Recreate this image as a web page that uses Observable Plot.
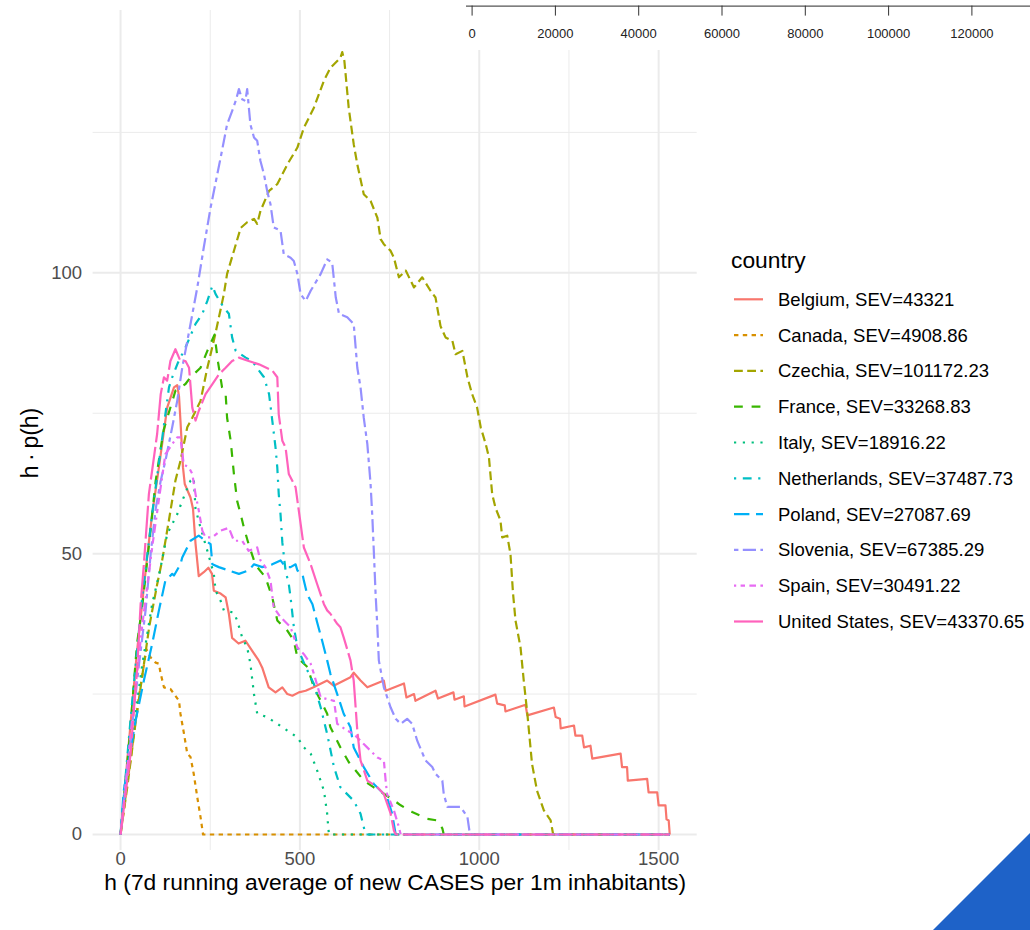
<!DOCTYPE html>
<html>
<head>
<meta charset="utf-8">
<script src="https://cdn.jsdelivr.net/npm/d3@7"></script>
<script src="https://cdn.jsdelivr.net/npm/@observablehq/plot@0.6"></script>
<style>
  body { margin: 0; background: #fff; font-family: "Liberation Sans", Arial, Helvetica, sans-serif; }
  #wrap { position: relative; width: 1030px; height: 930px; overflow: hidden; background: #fff; }
  #wrap > * { position: absolute; }
  .ytitle { left: 30px; top: 443px; transform: translate(-50%, -50%) rotate(-90deg); font-size: 23px; color: #000; white-space: nowrap; }
  .corner { right: 0; bottom: 0; width: 97px; height: 97px; background: #1e62c8; clip-path: polygon(100% 0, 100% 100%, 0 100%); }
</style>
</head>
<body>
<div id="wrap"></div>
<script>
// h = 7-day running average of new cases per 1M inhabitants, v = h·p(h)
const countries = ["Belgium", "Canada", "Czechia", "France", "Italy", "Netherlands", "Poland", "Slovenia", "Spain", "United States"];
const sev = ["43321", "4908.86", "101172.23", "33268.83", "18916.22", "37487.73", "27087.69", "67385.29", "30491.22", "43370.65"];
const colors = ["#F8766D", "#D89000", "#A3A500", "#39B600", "#00BF7D", "#00BFC4", "#00B0F6", "#9590FF", "#E76BF3", "#FF62BC"];
// ggplot linetypes: solid, 22, 42, 44, 13, 1343, 73, 2262, 12223242, F282
const dashes = ["none", "4.4,4.4", "8.8,4.4", "8.8,8.8", "2.2,6.6", "2.2,6.6,8.8,6.6", "15.4,6.6", "4.4,4.4,13.2,4.4", "2.2,4.4,4.4,4.4,6.6,4.4,8.8,4.4", "33,4.4,17.6,4.4"];

const xTicks = [0, 500, 1000, 1500];
const xMinor = [250, 750, 1250];
const yTicks = [0, 50, 100];
const yMinor = [25, 75, 125];
const topTicks = [0, 20000, 40000, 60000, 80000, 100000, 120000];

const belgium = [[0,0],[20,14],[45,32],[74,49.3],[88,57],[107,65.4],[130,76],[149,79.6],[158,80],[163,78],[167,73.7],[174,65.4],[179,62.4],[195,60],[202,58],[209,51.8],[218,46],[232,46.7],[245,47.5],[255,46.4],[260,43.4],[279,42.9],[293,42.2],[302,39.3],[311,35],[329,34],[348,34.5],[367,32.7],[385,31],[395,29.7],[413,26.2],[432,25.3],[451,26.2],[465,25],[479,24.7],[497,25.3],[516,25.6],[538,26.2],[576,27.4],[594,26.5],[641,28],[650,28.8],[669,27.4],[688,26.2],[734,27.4],[739,25.6],[790,26.9],[797,24.4],[818,25],[822,23.8],[878,25.6],[885,24.2],[928,25.3],[931,24],[957,24.6],[959,22.8],[1045,24.9],[1050,23.3],[1071,23],[1073,21.9],[1129,23.1],[1134,21.2],[1208,22.6],[1213,20.9],[1225,20.6],[1227,18.9],[1264,19.4],[1268,17.6],[1287,17.6],[1292,15.5],[1310,15.8],[1315,13.5],[1394,14.4],[1398,12],[1412,12],[1414,9.6],[1468,9.9],[1472,7.5],[1496,7.5],[1500,5.2],[1519,5.2],[1522,2.7],[1528,2.5],[1531,0]];
const canada = [[0,0],[25,12],[50,24],[72,33],[84,31.5],[98,30.6],[107,30.4],[111,28.9],[121,26.2],[139,25.9],[153,24.7],[163,23.8],[167,21.5],[177,17.9],[186,14.4],[195,13.8],[204,10.8],[214,6.6],[223,3.1],[230,0],[1531,0]];
const czechia = [[0,0],[20,9],[40,19],[60,28],[80,37],[102,44.5],[116,48.8],[135,56],[153,63],[167,66.5],[186,72.5],[200,74.2],[223,77.2],[242,83.1],[260,87.9],[274,92],[288,96.2],[297,99.8],[335,108],[353,109],[372,109.6],[381,108.7],[390,111],[414,114.6],[437,115.8],[465,119.3],[493,122.3],[511,125.8],[539,129.4],[567,134.2],[585,136.5],[613,138.3],[618,139.3],[624,137.7],[636,129.4],[650,122.9],[660,119.3],[678,114],[697,112.8],[716,109.8],[725,106],[734,105.1],[753,103.9],[762,102.7],[776,99.2],[795,100.4],[818,97.4],[841,99.2],[864,96.8],[878,95.6],[892,90.5],[906,88.5],[925,87.9],[934,85.5],[953,86.1],[967,81.4],[980,78.4],[994,76],[1004,72.5],[1018,69.5],[1027,67.1],[1036,60.6],[1045,58.2],[1059,55.9],[1064,52.9],[1078,53.2],[1087,49.9],[1094,43],[1101,38.1],[1115,33.3],[1124,27.4],[1134,21.5],[1147,12.6],[1161,7.8],[1180,4.3],[1199,2.5],[1206,0],[1531,0]];
const france = [[0,0],[25,17],[46,34],[60,40.4],[80,52],[98,63],[120,72],[153,79],[181,80.2],[195,81.4],[223,83.1],[242,86.1],[262,89],[272,84],[283,79.6],[293,78.4],[297,74.2],[307,70.1],[316,64.2],[325,59.4],[335,57],[344,54.6],[357,51.7],[372,48.8],[381,47.6],[404,45.8],[423,42.2],[437,38.1],[465,36.3],[483,34.5],[493,31.5],[521,29.8],[539,26.2],[558,23.8],[576,21.5],[585,19.1],[613,15.5],[636,12.9],[678,9.6],[706,8.4],[757,6.3],[781,5.2],[813,4],[855,2.8],[883,2.5],[897,1.1],[901,0],[1531,0]];
const italy = [[0,0],[30,16],[60,30],[88,41],[110,47],[130,53.5],[158,57],[172,59.4],[195,63],[204,63.5],[209,58],[223,54.6],[242,50.5],[260,46.4],[265,43.4],[279,41.6],[288,39.9],[316,39.5],[325,38.1],[339,35.1],[353,33.3],[362,30.4],[372,25],[381,21.5],[409,20.9],[437,19.7],[465,18.5],[493,17.3],[511,15.5],[530,14.4],[548,11.4],[567,7.8],[576,3.7],[579,1.3],[581,0],[1531,0]];
const netherlands = [[0,0],[30,22],[60,42],[90,58],[115,70],[135,79.6],[144,81.4],[160,84],[181,86.7],[209,90.9],[228,92.7],[242,95],[256,97.7],[265,96.2],[279,94.7],[288,93.8],[302,92.7],[311,88.5],[321,86.1],[349,84.9],[367,84.3],[386,82.6],[400,81.4],[414,78.4],[423,73.7],[432,68.9],[437,65.3],[441,60.6],[446,57],[451,52],[460,47],[469,44.6],[474,42.2],[483,37],[493,33.3],[515,30],[539,26.8],[558,22.6],[576,17.9],[595,12],[613,8.4],[650,6],[669,3.7],[683,0],[1531,0]];
const poland = [[0,0],[9,7.8],[42,20.3],[65,27.4],[88,33.9],[107,39.9],[125,45.2],[144,46.4],[149,46.1],[167,48.1],[172,49.3],[195,52.3],[218,53.2],[237,52.3],[251,51.7],[256,48.1],[274,47.6],[302,47],[330,46.4],[357,47],[372,48.1],[395,47.6],[423,48.1],[446,48.8],[460,47.6],[474,47.6],[488,48.1],[493,47],[507,46.4],[511,45.2],[520,42.8],[535,41],[548,37.8],[562,34.5],[576,31],[585,28.6],[604,25],[622,21.5],[641,19.1],[650,15.5],[678,12],[706,9],[725,7.8],[743,6.6],[757,3.7],[767,0],[1531,0]];
const slovenia = [[0,0],[30,18],[51,30],[70,40],[84,50],[98,58],[112,63],[125,66.5],[144,72.5],[158,77.2],[172,83.1],[191,89.5],[214,97.4],[232,104.5],[251,111.6],[279,120.5],[297,126.4],[311,128.8],[321,130.6],[330,132.7],[339,130.9],[348,130.6],[353,132.7],[362,126.4],[372,124.1],[381,123.5],[390,119.9],[400,117.5],[409,114.5],[418,112.2],[427,108.1],[446,107.5],[455,103.3],[474,102.7],[483,102.1],[493,99.8],[502,96.2],[516,95],[530,96.8],[558,99.8],[576,102.4],[590,101.8],[600,95.6],[609,92.7],[632,92.1],[650,90.9],[660,83.1],[669,79.6],[678,74.2],[688,69.5],[697,62.4],[702,56.4],[706,50.5],[711,42.8],[716,36.9],[720,31],[734,26.2],[753,22.6],[767,20.6],[781,19.7],[799,20.6],[813,19.7],[827,16.7],[850,13.2],[869,12],[878,10.8],[897,9.6],[901,7.2],[911,4.9],[948,4.9],[967,3.1],[974,0],[1531,0]];
const spain = [[0,0],[30,19],[60,37],[90,52],[110,61],[125,67.7],[144,69.5],[158,70.7],[167,70.7],[176,65.9],[191,65.3],[200,64.2],[209,60.6],[218,57.7],[228,54.1],[237,52.9],[256,52.9],[279,54.1],[302,54.6],[316,52.3],[339,52.3],[357,50.5],[381,51.1],[390,48.8],[404,47.6],[418,45.2],[427,40.4],[446,38.7],[474,36.9],[493,33.3],[511,32.1],[530,30.4],[539,28.6],[558,24.4],[595,23.8],[604,19.7],[632,18.5],[650,17.9],[678,16.1],[716,13.7],[734,13.2],[739,9.6],[743,7.2],[762,4.3],[776,1.3],[781,0],[1531,0]];
const unitedStates = [[0,0],[14,7.2],[28,14.4],[37,22],[46,29.2],[56,41],[65,48.1],[79,60.6],[102,71.3],[112,78.4],[121,81.4],[130,80.8],[139,84.3],[153,86.4],[167,84.3],[181,84.3],[191,83.1],[200,76],[209,73.7],[218,75.4],[237,78.4],[256,80.2],[274,81.9],[293,83.1],[311,84.3],[330,84.9],[357,84.3],[386,83.7],[423,82.6],[437,81.4],[441,74.8],[451,70.1],[460,68.9],[469,64.2],[488,61.8],[502,55.3],[511,51.1],[530,48.1],[548,44.6],[567,41],[576,39.9],[585,39.3],[604,37.5],[613,36.9],[622,35.1],[641,31],[650,27.4],[660,18.5],[669,13.2],[688,9.6],[716,8.4],[734,7.2],[753,3.7],[762,0.7],[767,0],[1531,0]];

const curves = [belgium, canada, czechia, france, italy, netherlands, poland, slovenia, spain, unitedStates];
const labels = countries.map((c, i) => `${c}, SEV=${sev[i]}`);

const FONT = "Liberation Sans, Arial, Helvetica, sans-serif";
const wrap = document.getElementById("wrap");

// main panel
const grid = "#ebebeb";
const chart = Plot.plot({
  width: 700,
  height: 905,
  marginLeft: 92.6,
  marginRight: 3.3,
  marginTop: 10,
  marginBottom: 55,
  style: {fontFamily: FONT, background: "transparent"},
  x: {domain: [-76.5, 1607.5]},
  y: {domain: [-2.85, 146.7]},
  color: {domain: labels, range: colors},
  marks: [
    Plot.gridX(xMinor, {stroke: grid, strokeOpacity: 1, strokeWidth: 1}),
    Plot.gridY(yMinor, {stroke: grid, strokeOpacity: 1, strokeWidth: 1}),
    Plot.gridX(xTicks, {stroke: grid, strokeOpacity: 1, strokeWidth: 2}),
    Plot.gridY(yTicks, {stroke: grid, strokeOpacity: 1, strokeWidth: 2}),
    Plot.axisX({ticks: xTicks, tickSize: 0, tickPadding: 1, tickFormat: d3.format("d"), fontSize: 18.5, fill: "#4d4d4d", label: null}),
    Plot.axisY({ticks: yTicks, tickSize: 0, tickPadding: 11, tickFormat: d3.format("d"), fontSize: 18.5, fill: "#4d4d4d", label: null}),
    ...curves.map((pts, i) => Plot.line(pts, {
      x: d => d[0],
      y: d => d[1],
      stroke: () => labels[i],
      strokeWidth: 2.2,
      strokeDasharray: dashes[i] === "none" ? null : dashes[i],
      strokeLinecap: "butt",
      strokeLinejoin: "round"
    })),
    Plot.text(["h (7d running average of new CASES per 1m inhabitants)"], {
      text: d => d, frameAnchor: "bottom", dy: 39, fontSize: 22.8, fill: "#000"
    })
  ]
});
chart.style.left = "0px";
chart.style.top = "0px";
wrap.appendChild(chart);

// y axis title
const yTitle = document.createElement("div");
yTitle.className = "ytitle";
yTitle.textContent = "h\u2009\u00b7\u2009p(h)";
wrap.appendChild(yTitle);

// legend
const lg = d3.create("svg")
  .attr("width", 320).attr("height", 420)
  .style("left", "710px").style("top", "230px")
  .attr("font-family", FONT);
lg.append("text").attr("x", 21).attr("y", 30).attr("dominant-baseline", "central")
  .attr("font-size", 22.8).attr("fill", "#000").text("country");
const key = lg.selectAll("g").data(labels).join("g")
  .attr("transform", (d, i) => `translate(0,${69.3 + 35.8 * i})`);
key.append("line").attr("x1", 24).attr("x2", 53).attr("y1", 0).attr("y2", 0)
  .attr("stroke", (d, i) => colors[i]).attr("stroke-width", 2.2)
  .attr("stroke-dasharray", (d, i) => dashes[i] === "none" ? null : dashes[i]);
key.append("text").attr("x", 68).attr("y", 0).attr("dominant-baseline", "central")
  .attr("font-size", 18.5).attr("fill", "#000").text(d => d);
wrap.appendChild(lg.node());

// secondary scale strip along the top edge
const strip = Plot.plot({
  width: 564,
  height: 50,
  marginLeft: 0,
  marginRight: 0,
  marginTop: 5.6,
  marginBottom: 44.4,
  style: {fontFamily: FONT, background: "#fff"},
  x: {domain: [-1345, 134070]},
  y: {domain: [0, 1], axis: null},
  marks: [
    Plot.ruleY([0], {stroke: "#555", strokeWidth: 1.3}),
    Plot.axisX({ticks: topTicks, anchor: "bottom", tickSize: 10, tickPadding: 13, tickFormat: d3.format("d"), fontSize: 13, fill: "#222", stroke: "#333", label: null})
  ]
});
strip.style.left = "466px";
strip.style.top = "0px";
wrap.appendChild(strip);

const corner = document.createElement("div");
corner.className = "corner";
wrap.appendChild(corner);
</script>
</body>
</html>
